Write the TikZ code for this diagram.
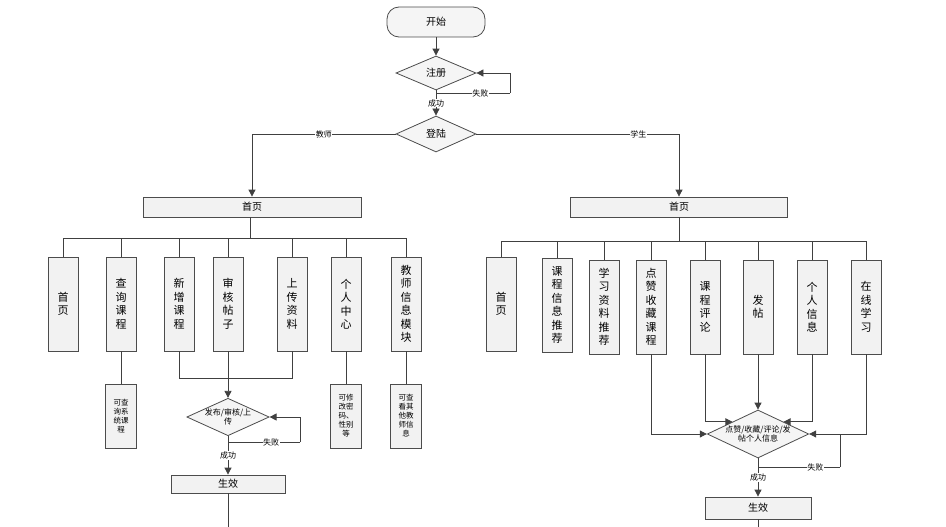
\documentclass[tikz,border=0pt]{standalone}
\usepackage{fontspec}
\setmainfont{Liberation Serif}
\newfontfamily\cjk{Noto Sans CJK SC}
\usetikzlibrary{shapes.geometric,arrows.meta}
\tikzset{
  box/.style={draw=black!70, fill=gray!10, minimum width=30, minimum height=94, inner sep=1, align=center, font=\cjk\fontsize{11}{13.5}\selectfont},
  note/.style={draw=black!70, fill=gray!10, minimum width=31, minimum height=64, inner sep=1, align=center, font=\cjk\fontsize{7.5}{9}\selectfont},
  wide/.style={draw=black!70, fill=gray!10, minimum height=20, inner sep=1, font=\cjk\fontsize{10}{12}\selectfont},
  dec/.style={diamond, draw=black!70, fill=gray!8, aspect=2.2, inner sep=0, align=center, font=\cjk\fontsize{8}{9}\selectfont},
  lab/.style={fill=white, inner sep=0.5, font=\cjk\fontsize{8}{9}\selectfont},
  arr/.style={-{Triangle[length=7,width=7]}},
}
\begin{document}
\begin{tikzpicture}[x=1pt, y=-1pt, line width=0.8, draw=black!75]
      \useasboundingbox (0,0) rectangle (946,527);
      % top part
      \node[draw=black!70, fill=gray!8, rounded corners=12, minimum width=98, minimum height=30, font=\cjk\fontsize{10}{12}\selectfont] (start) at (436,22) {开始};
      \node[dec, minimum width=80, minimum height=34, font=\cjk\fontsize{10}{12}\selectfont] (reg) at (436,73) {注册};
      \node[dec, minimum width=80, minimum height=36, font=\cjk\fontsize{10}{12}\selectfont] (login) at (436,134) {登陆};
      \coordinate (regloop) at (510,93);
      \draw[arr] (start) -- (reg);
      \draw (reg.south) |- (regloop) node[lab, pos=0.8] {失败};
      \draw[arr] (regloop) |- (reg.east);
      \draw[arr] (reg) -- node[lab] {成功} (login);
      % teacher side
      \node[wide, minimum width=218] (thome) at (252,207) {首页};
      \draw[arr] (login.west) -| node[lab, pos=0.25] {教师} (thome.north);
      \node[box] (t1) at (63,304) {首\\页};
      \node[box] (t2) at (121,304) {查\\询\\课\\程};
      \node[box] (t3) at (179,304) {新\\增\\课\\程};
      \node[box] (t4) at (228,304) {审\\核\\帖\\子};
      \node[box] (t5) at (292,304) {上\\传\\资\\料};
      \node[box] (t6) at (346,304) {个\\人\\中\\心};
      \node[box] (t7) at (406,304) {教\\师\\信\\息\\模\\块};
      \coordinate (tbus) at (250,238);
      \draw (thome.south -| tbus) -- (tbus);
      \draw (t1.north) |- (t7.north |- tbus) -- (t7.north);
      \foreach \b in {t2,t3,t4,t5,t6} \draw (\b.north) -- (\b.north |- tbus);
      \node[note] (n2) at (121,416) {可查\\询系\\统课\\程};
      \node[note] (n6) at (346,416) {可修\\改密\\码、\\性别\\等};
      \node[note] (n7) at (406,416) {可查\\看其\\他教\\师信\\息};
      \draw (t2) -- (n2);
      \draw (t6) -- (n6);
      \draw (t7) -- (n7);
      \node[dec, minimum width=80, minimum height=36] (tdec) at (228,417) {发布/审核/上\\传};
      \coordinate (tmerge) at (179,378);
      \draw (t3.south) |- (t5.south |- tmerge) -- (t5.south);
      \draw[arr] (t4) -- (tdec);
      \coordinate (tloop) at (300,442);
      \draw (tdec.south) |- (tloop) node[lab, pos=0.8] {失败};
      \draw[arr] (tloop) |- (tdec.east);
      \node[wide, minimum width=114, minimum height=18] (tok) at (228,484) {生效};
      \draw[arr] (tdec) -- node[lab] {成功} (tok);
      \coordinate (tend) at (228,527);
      \draw (tok) -- (tend);
      % student side
      \node[wide, minimum width=217] (shome) at (679,207) {首页};
      \draw[arr] (login.east) -| node[lab, pos=0.4] {学生} (shome.north);
      \node[box] (s1) at (501,304) {首\\页};
      \node[box] (s2) at (557,305) {课\\程\\信\\息\\推\\荐};
      \node[box] (s3) at (604,307) {学\\习\\资\\料\\推\\荐};
      \node[box] (s4) at (651,307) {点\\赞\\收\\藏\\课\\程};
      \node[box] (s5) at (705,307) {课\\程\\评\\论};
      \node[box] (s6) at (758,307) {发\\帖};
      \node[box] (s7) at (812,307) {个\\人\\信\\息};
      \node[box] (s8) at (866,307) {在\\线\\学\\习};
      \coordinate (sbus) at (679,241);
      \draw (shome.south -| sbus) -- (sbus);
      \draw (s1.north) |- (s8.north |- sbus) -- (s8.north);
      \foreach \b in {s2,s3,s4,s5,s6,s7} \draw (\b.north) -- (\b.north |- sbus);
      \node[dec, minimum width=96, minimum height=48] (sdec) at (758,434) {点赞/收藏/评论/发\\帖个人信息};
      \draw[arr] (s4.south) |- (sdec.west);
      \draw[arr] (s5.south) |- (sdec.north west);
      \draw[arr] (s6) -- (sdec);
      \draw[arr] (s7.south) |- (sdec.north east);
      \draw[arr] (s8.south) |- (sdec.east);
      \coordinate (sloop) at (840,467);
      \draw (sdec.south) |- (sloop) node[lab, pos=0.85] {失败};
      \draw (sloop) -- (sloop |- sdec.east);
      \node[wide, minimum width=106, minimum height=22] (sok) at (758,508) {生效};
      \draw[arr] (sdec) -- node[lab] {成功} (sok);
      \coordinate (send) at (758,527);
      \draw (sok) -- (send);
\end{tikzpicture}
\end{document}
